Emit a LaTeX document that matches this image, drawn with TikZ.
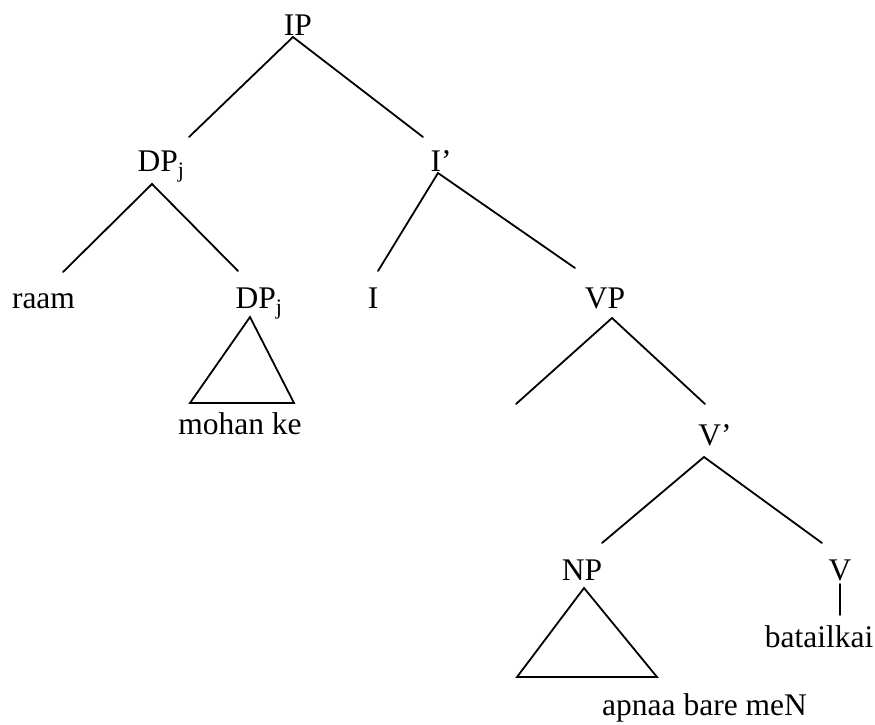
\documentclass[tikz,border=0pt]{standalone}
\usepackage{fontspec}
\setmainfont{Liberation Serif}
\begin{document}
\begin{tikzpicture}[x=1pt,y=-1pt,
  lbl/.style={anchor=base,inner sep=0pt,font=\fontsize{31.5}{37}\selectfont},
  edge/.style={line width=1.8pt,line cap=round,line join=miter}]
\useasboundingbox (0,0) rectangle (875,724);
% labels
\node[lbl] (IP) at (298,35) {IP};
\node[lbl] (DPa) at (161,171) {DP\textsubscript{j}};
\node[lbl] (Ib) at (441,171) {I’};
\node[lbl] (raam) at (43.5,308) {raam};
\node[lbl] (DPb) at (259,308) {DP\textsubscript{j}};
\node[lbl] (I) at (373,308) {I};
\node[lbl] (VP) at (605,308) {VP};
\node[lbl] (mohan) at (240,434) {mohan ke};
\node[lbl] (Vb) at (715,445) {V’};
\node[lbl] (NP) at (582,580) {NP};
\node[lbl] (V) at (840,580) {V};
\node[lbl] (bat) at (819,647) {batailkai};
\node[lbl] (apnaa) at (704.5,715) {apnaa bare meN};
% connector end points
\coordinate (IP-b) at (293,37);
\coordinate (DPa-t) at (189,137);
\coordinate (Ib-t) at (423,137);
\coordinate (DPa-b) at (152,184);
\coordinate (raam-t) at (63,272);
\coordinate (DPb-t) at (238,271);
\coordinate (Ib-b) at (438,173);
\coordinate (I-t) at (378,271);
\coordinate (VP-t) at (575,268);
\coordinate (VP-b) at (612,318);
\coordinate (spec-t) at (516,404);
\coordinate (Vb-t) at (705,404);
\coordinate (Vb-b) at (704,457);
\coordinate (NP-t) at (602,543);
\coordinate (V-t) at (822,543);
\coordinate (V-b) at (840,584);
\coordinate (bat-t) at (840,615);
\coordinate (DPb-a) at (250,317);
\coordinate (DPb-l) at (190,403);
\coordinate (DPb-r) at (294,403);
\coordinate (NP-a) at (584,588);
\coordinate (NP-l) at (517,677);
\coordinate (NP-r) at (657,677);
% branches
\draw[edge] (DPa-t) -- (IP-b) -- (Ib-t);
\draw[edge] (raam-t) -- (DPa-b) -- (DPb-t);
\draw[edge] (I-t) -- (Ib-b) -- (VP-t);
\draw[edge] (spec-t) -- (VP-b) -- (Vb-t);
\draw[edge] (NP-t) -- (Vb-b) -- (V-t);
\draw[edge] (V-b) -- (bat-t);
% triangles
\draw[edge] (DPb-a) -- (DPb-r) -- (DPb-l) -- cycle;
\draw[edge] (NP-a) -- (NP-r) -- (NP-l) -- cycle;
\end{tikzpicture}
\end{document}
